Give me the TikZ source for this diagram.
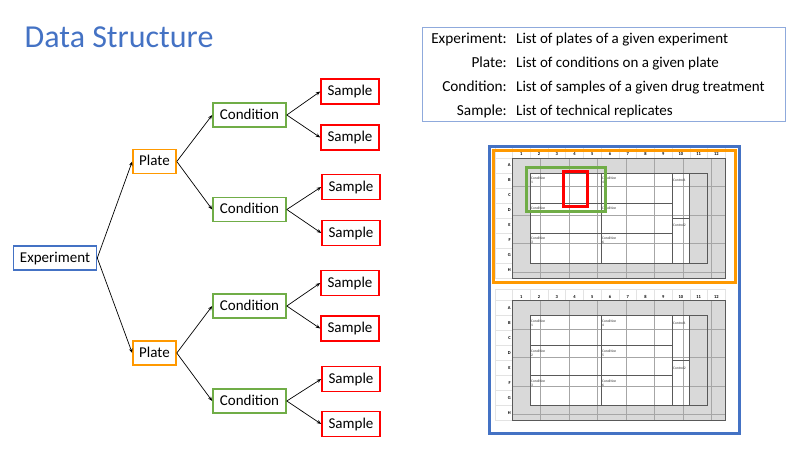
\documentclass[tikz,border=0pt]{standalone}
\usepackage{fontspec}
\setmainfont{Carlito}
\usetikzlibrary{arrows.meta}

\definecolor{tblue}{HTML}{4472C4}
\definecolor{torange}{HTML}{FF9900}
\definecolor{tgreen}{HTML}{70AD47}
\definecolor{tred}{HTML}{FF0000}
\definecolor{legendline}{HTML}{8FAADC}
\definecolor{wellgray}{HTML}{D9D9D9}
\definecolor{cellgray}{HTML}{A6A6A6}
\definecolor{groupgray}{HTML}{595959}
\definecolor{hdrgray}{HTML}{E3E3E3}

% One 96-well plate layout; #1,#2 = top-left corner of the well grid
\newcommand\wellplate[2]{%
\begin{scope}[shift={(#1,#2)}]
\begin{scope}[x=17.75pt,y=-15pt]
  % spreadsheet header strip
  \draw[hdrline] (-0.96,-0.75) -- (12,-0.75);
  \foreach \i in {0,...,12} \draw[hdrline] (\i,-0.75) -- (\i,0);
  \draw[hdrline] (-0.96,-0.75) -- (-0.96,8);
  \foreach \j in {0,...,8} \draw[hdrline] (-0.96,\j) -- (0,\j);
  % wells
  \fill[wellgray] (0,0) rectangle (12,8);
  \fill[white] (1,1) rectangle (10,7);
  \draw[cellline] (0,0) grid (12,8);
  % condition / control groups
  \draw[groupline] (1,1) -- (11,1) (1,3) -- (9,3) (1,5) -- (9,5) (1,7) -- (11,7)
                   (9,4) -- (10,4)
                   (1,1) -- (1,7) (5,1) -- (5,7) (9,1) -- (9,7)
                   (10,1) -- (10,7) (11,1) -- (11,7);
  \draw[groupline] (0,0) rectangle (12,8);
  % column and row labels
  \foreach \c in {1,...,12} \node[collabel] at (\c-0.5,-0.25) {\c};
  \foreach \r [count=\k] in {A,B,C,D,E,F,G,H} \node[rowlabel] at (-0.08,\k-0.5) {\r};
  % group names
  \node[welltext] at (1.05,1.5) {Condition\\1};
  \node[welltext] at (5.05,1.5) {Condition\\4};
  \node[welltext] at (1.05,3.5) {Condition\\2};
  \node[welltext] at (5.05,3.5) {Condition\\5};
  \node[welltext] at (1.05,5.5) {Condition\\3};
  \node[welltext] at (5.05,5.5) {Condition\\6};
  \node[welltext] at (9.05,1.5) {Control1};
  \node[welltext] at (9.05,4.5) {Control2};
\end{scope}
\end{scope}}

\begin{document}
\begin{tikzpicture}[x=1pt,y=-1pt,
  box/.style={draw, line width=1.6pt, minimum height=24pt, inner sep=0pt,
              text height=10.5pt, text depth=2.5pt,
              font=\fontsize{15}{15}\selectfont},
  expbox/.style={box, draw=tblue, minimum width=83pt},
  platebox/.style={box, draw=torange, minimum width=43pt},
  condbox/.style={box, draw=tgreen, minimum width=73pt},
  samplebox/.style={box, draw=tred, minimum width=58pt, minimum height=25pt},
  link/.style={-{Stealth[length=4.5pt,width=3.5pt]}, line width=0.7pt},
  legkey/.style={anchor=base east, inner sep=0pt, font=\fontsize{15.3}{15.3}\selectfont},
  legval/.style={anchor=base west, inner sep=0pt, font=\fontsize{15}{15}\selectfont},
  hdrline/.style={draw=hdrgray, line width=0.4pt},
  cellline/.style={draw=cellgray, line width=0.6pt},
  groupline/.style={draw=groupgray, line width=1pt},
  collabel/.style={inner sep=0pt, font=\fontsize{4.5}{4.5}\selectfont\bfseries},
  rowlabel/.style={anchor=east, inner sep=0pt, font=\fontsize{4.5}{4.5}\selectfont\bfseries},
  welltext/.style={anchor=west, inner sep=0pt, align=left, font=\fontsize{3.6}{3.8}\selectfont, text=black!80},
]
\useasboundingbox (0,0) rectangle (800,450);

% title
\node[anchor=base west, inner sep=0pt, text=tblue, font=\fontsize{32}{32}\selectfont] (title) at (24.5,47.5) {Data Structure};

% hierarchy tree
\node[expbox] (exp) at (55,258) {Experiment};
\node[platebox] (p1) at (154.5,161.5) {Plate};
\node[platebox] (p2) at (154.5,353) {Plate};
\node[condbox] (c1) at (249.5,115) {Condition};
\node[condbox] (c2) at (249.5,209.5) {Condition};
\node[condbox] (c3) at (249.5,306) {Condition};
\node[condbox] (c4) at (249.5,401) {Condition};
\node[samplebox] (s1) at (350,91.5) {Sample};
\node[samplebox] (s2) at (350,137.5) {Sample};
\node[samplebox] (s3) at (351,187) {Sample};
\node[samplebox] (s4) at (351,233) {Sample};
\node[samplebox] (s5) at (350,283) {Sample};
\node[samplebox] (s6) at (350,328.5) {Sample};
\node[samplebox] (s7) at (351,379) {Sample};
\node[samplebox] (s8) at (351,424) {Sample};

\foreach \a/\b in {exp/p1, exp/p2, p1/c1, p1/c2, p2/c3, p2/c4,
                   c1/s1, c1/s2, c2/s3, c2/s4, c3/s5, c3/s6, c4/s7, c4/s8}
  \draw[link] (\a.east) -- (\b.west);

% legend
\draw[legendline, line width=1pt] (422,27) rectangle (785.5,121);
\node[legkey] (k1) at (507,43.5) {Experiment:};
\node[legkey] (k2) at (507,67.5) {Plate:};
\node[legkey] (k3) at (507,91.5) {Condition:};
\node[legkey] (k4) at (507,115.5) {Sample:};
\node[legval] (v1) at (516,43.5) {List of plates of a given experiment};
\node[legval] (v2) at (516,67.5) {List of conditions on a given plate};
\node[legval] (v3) at (516,91.5) {List of samples of a given drug treatment};
\node[legval] (v4) at (516,115.5) {List of technical replicates};

% plate layouts
\wellplate{512.3}{158}
\wellplate{512.3}{300.5}

% selected plate, condition and sample
\draw[torange, line width=3pt] (493.5,150) rectangle (735,282.5);
\draw[tgreen, line width=3pt] (526,167.5) rectangle (605.5,211);
\draw[tred, line width=3pt] (563,171.5) rectangle (587,206.5);
\draw[tblue, line width=3pt] (489.5,146.5) rectangle (739,433);
\end{tikzpicture}
\end{document}
